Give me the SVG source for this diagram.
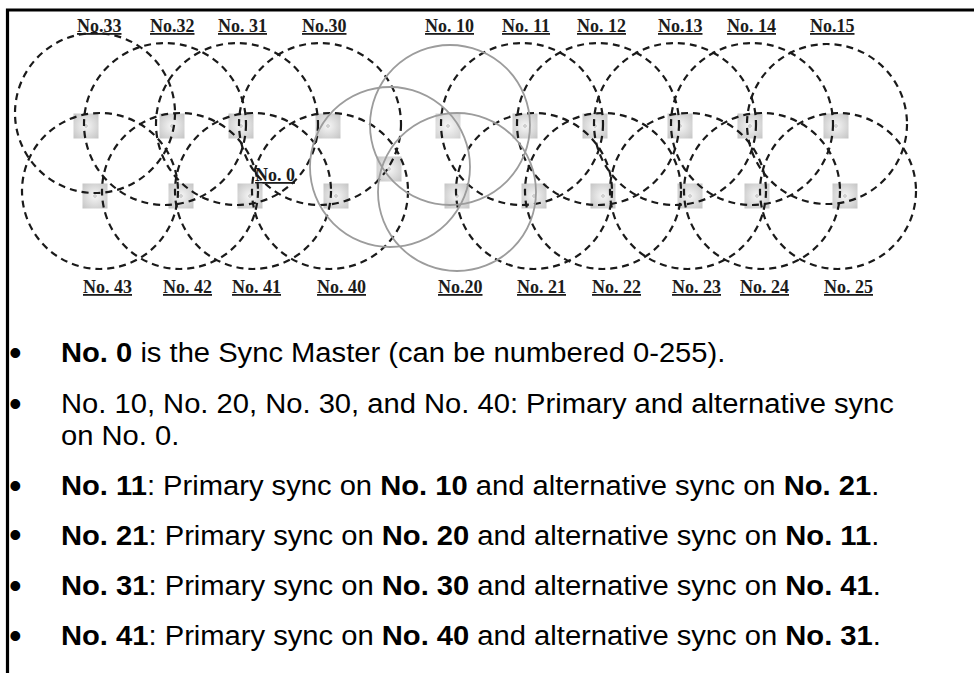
<svg xmlns="http://www.w3.org/2000/svg" width="974" height="673" viewBox="0 0 974 673">
<defs>
  <radialGradient id="sq" cx="50%" cy="50%" r="70%">
    <stop offset="0" stop-color="#f6f6f6"/>
    <stop offset="1" stop-color="#c4c4c4"/>
  </radialGradient>
  <style>
    .sq{fill:url(#sq)}
    .dot{fill:#f2f2f2;stroke:#9a9a9a;stroke-width:0.6}
    .lbl{font-family:"Liberation Serif","Times New Roman",serif;font-weight:bold;font-size:18px;fill:#1c1c1c;text-decoration:underline}
    .dash{fill:none;stroke:#1a1a1a;stroke-width:2.2;stroke-dasharray:7 5}
    .gray{fill:none;stroke:#9c9c9c;stroke-width:1.8}
    .txt{font-family:"Liberation Sans",Arial,sans-serif;font-size:27px;fill:#000}
    .b{font-weight:bold}
    .bul{font-family:"Liberation Sans",Arial,sans-serif;font-size:36px;fill:#000}
  </style>
</defs>
<rect width="974" height="673" fill="#fff"/>
<polyline points="974,10 7.5,10 7.5,673" fill="none" stroke="#000" stroke-width="3.2"/>

<!-- nodes: squares and labels -->
<g id="node-33"><rect class="sq" x="73.5" y="113.5" width="25" height="25"/><circle class="dot" cx="86" cy="126" r="1.3"/><text class="lbl" x="77" y="32">No.33</text></g>
<g id="node-32"><rect class="sq" x="159.5" y="113.5" width="25" height="25"/><circle class="dot" cx="172" cy="126" r="1.3"/><text class="lbl" x="150" y="32">No.32</text></g>
<g id="node-31"><rect class="sq" x="228.5" y="113.5" width="25" height="25"/><circle class="dot" cx="241" cy="126" r="1.3"/><text class="lbl" x="218" y="32">No. 31</text></g>
<g id="node-30"><rect class="sq" x="315.5" y="113.5" width="25" height="25"/><circle class="dot" cx="328" cy="126" r="1.3"/><text class="lbl" x="302" y="32">No.30</text></g>
<g id="node-10"><rect class="sq" x="435.5" y="113.5" width="25" height="25" opacity="0.8"/><circle class="dot" cx="448" cy="126" r="1.3"/><text class="lbl" x="425" y="32">No. 10</text></g>
<g id="node-11"><rect class="sq" x="512.5" y="113.5" width="25" height="25"/><circle class="dot" cx="525" cy="126" r="1.3"/><text class="lbl" x="502" y="32">No. 11</text></g>
<g id="node-12"><rect class="sq" x="582.5" y="113.5" width="25" height="25"/><circle class="dot" cx="595" cy="126" r="1.3"/><text class="lbl" x="577" y="32">No. 12</text></g>
<g id="node-13"><rect class="sq" x="667.5" y="113.5" width="25" height="25"/><circle class="dot" cx="680" cy="126" r="1.3"/><text class="lbl" x="658" y="32">No.13</text></g>
<g id="node-14"><rect class="sq" x="737.5" y="113.5" width="25" height="25"/><circle class="dot" cx="750" cy="126" r="1.3"/><text class="lbl" x="727" y="32">No. 14</text></g>
<g id="node-15"><rect class="sq" x="823.5" y="113.5" width="25" height="25"/><circle class="dot" cx="836" cy="126" r="1.3"/><text class="lbl" x="810" y="32">No.15</text></g>

<g id="node-0"><rect class="sq" x="376.5" y="156.5" width="25" height="25"/><circle class="dot" cx="389" cy="169" r="1.3"/><text class="lbl" x="255" y="181">No. 0</text></g>

<g id="node-43"><rect class="sq" x="82.5" y="183.5" width="25" height="25"/><circle class="dot" cx="95" cy="196" r="1.3"/><text class="lbl" x="83" y="293">No. 43</text></g>
<g id="node-42"><rect class="sq" x="168.5" y="183.5" width="25" height="25"/><circle class="dot" cx="181" cy="196" r="1.3"/><text class="lbl" x="163" y="293">No. 42</text></g>
<g id="node-41"><rect class="sq" x="237.5" y="183.5" width="25" height="25"/><circle class="dot" cx="250" cy="196" r="1.3"/><text class="lbl" x="232" y="293">No. 41</text></g>
<g id="node-40"><rect class="sq" x="323.5" y="183.5" width="25" height="25"/><circle class="dot" cx="336" cy="196" r="1.3"/><text class="lbl" x="317" y="293">No. 40</text></g>
<g id="node-20"><rect class="sq" x="444.5" y="183.5" width="25" height="25"/><circle class="dot" cx="457" cy="196" r="1.3"/><text class="lbl" x="438" y="293">No.20</text></g>
<g id="node-21"><rect class="sq" x="521.5" y="183.5" width="25" height="25"/><circle class="dot" cx="534" cy="196" r="1.3"/><text class="lbl" x="517" y="293">No. 21</text></g>
<g id="node-22"><rect class="sq" x="590.5" y="183.5" width="25" height="25"/><circle class="dot" cx="603" cy="196" r="1.3"/><text class="lbl" x="592" y="293">No. 22</text></g>
<g id="node-23"><rect class="sq" x="677.5" y="183.5" width="25" height="25"/><circle class="dot" cx="690" cy="196" r="1.3"/><text class="lbl" x="672" y="293">No. 23</text></g>
<g id="node-24"><rect class="sq" x="744.5" y="183.5" width="25" height="25"/><circle class="dot" cx="757" cy="196" r="1.3"/><text class="lbl" x="740" y="293">No. 24</text></g>
<g id="node-25"><rect class="sq" x="832.5" y="183.5" width="25" height="25"/><circle class="dot" cx="845" cy="196" r="1.3"/><text class="lbl" x="824" y="293">No. 25</text></g>

<!-- connectors: coverage ranges -->
<g id="connectors">
  <circle class="dash" cx="95" cy="113" r="80"/>
  <circle class="dash" cx="165" cy="124" r="81"/>
  <circle class="dash" cx="237" cy="124" r="81"/>
  <circle class="dash" cx="320" cy="124" r="81"/>
  <circle class="dash" cx="522" cy="124" r="81"/>
  <circle class="dash" cx="598" cy="124" r="81"/>
  <circle class="dash" cx="675" cy="124" r="81"/>
  <circle class="dash" cx="752" cy="124" r="81"/>
  <circle class="dash" cx="827" cy="124" r="80"/>
  <circle class="dash" cx="100" cy="191" r="78"/>
  <circle class="dash" cx="180" cy="191" r="78"/>
  <circle class="dash" cx="253" cy="191" r="78"/>
  <circle class="dash" cx="330" cy="191" r="78"/>
  <circle class="dash" cx="534" cy="191" r="78"/>
  <circle class="dash" cx="603" cy="191" r="78"/>
  <circle class="dash" cx="688" cy="191" r="78"/>
  <circle class="dash" cx="762" cy="191" r="78"/>
  <circle class="dash" cx="838" cy="191" r="78"/>
  <circle class="gray" cx="450" cy="125" r="80"/>
  <circle class="gray" cx="390" cy="167" r="80"/>
  <circle class="gray" cx="457" cy="192" r="79"/>
</g>

<!-- bullet text -->
<g id="notes">
  <text class="bul" x="9" y="365">•</text>
  <text class="bul" x="9" y="416">•</text>
  <text class="bul" x="9" y="498">•</text>
  <text class="bul" x="9" y="547">•</text>
  <text class="bul" x="9" y="598">•</text>
  <text class="bul" x="9" y="648">•</text>
  <text class="txt" transform="translate(61 362) scale(1.08 1)"><tspan class="b">No. 0</tspan> is the Sync Master (can be numbered 0-255).</text>
  <text class="txt" transform="translate(61 413) scale(1.08 1)">No. 10, No. 20, No. 30, and No. 40: Primary and alternative sync</text>
  <text class="txt" transform="translate(61 445) scale(1.08 1)">on No. 0.</text>
  <text class="txt" transform="translate(61 495) scale(1.08 1)"><tspan class="b">No. 11</tspan>: Primary sync on <tspan class="b">No. 10</tspan> and alternative sync on <tspan class="b">No. 21</tspan>.</text>
  <text class="txt" transform="translate(61 545) scale(1.08 1)"><tspan class="b">No. 21</tspan>: Primary sync on <tspan class="b">No. 20</tspan> and alternative sync on <tspan class="b">No. 11</tspan>.</text>
  <text class="txt" transform="translate(61 595) scale(1.08 1)"><tspan class="b">No. 31</tspan>: Primary sync on <tspan class="b">No. 30</tspan> and alternative sync on <tspan class="b">No. 41</tspan>.</text>
  <text class="txt" transform="translate(61 645) scale(1.08 1)"><tspan class="b">No. 41</tspan>: Primary sync on <tspan class="b">No. 40</tspan> and alternative sync on <tspan class="b">No. 31</tspan>.</text>
</g>
</svg>
